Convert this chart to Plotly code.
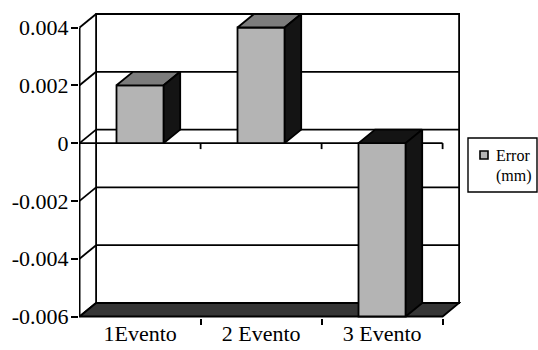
import plotly.graph_objects as go

# ---- data -------------------------------------------------------------
categories = ["1Evento", "2 Evento", "3 Evento"]
error_mm = [0.002, 0.004, -0.006]
y_ticks = [0.004, 0.002, 0, -0.002, -0.004, -0.006]
y_tick_text = ["0.004", "0.002", "0", "-0.002", "-0.004", "-0.006"]
legend_lines = ["Error", "(mm)"]

# ---- geometry / style -------------------------------------------------
FONT = "Liberation Serif, Times New Roman, serif"
W, H = 538, 350
ML, MR, MT, MB = 79, 77, 12, 32
PX_CAT = 121.0              # pixels per category
PX_VAL = 28900.0            # pixels per unit of value
DX = 16.5 / PX_CAT          # depth of the 3-D box along x (category units)
DY = 13.5 / PX_VAL          # depth of the 3-D box along y (value units)
BAR_W = 0.39
LW = 1.8

FRONT = "#b4b4b4"
TOP = "#7c7c7c"
SIDE = "#141414"
FLOOR = "#363636"

n = len(categories)
xs = list(range(1, n + 1))
x_lo, x_hi = 0.5, n + 0.5
y_lo, y_hi = min(y_ticks), max(y_ticks)

plot_w = W - ML - MR
plot_h = H - MT - MB
x0 = x_lo - 0.6 / PX_CAT
y0 = y_lo - 1.5 / PX_VAL
x_range = [x0, x0 + plot_w / PX_CAT]
y_range = [y0, y0 + plot_h / PX_VAL]


def px_x(p):
    return (p - ML) / plot_w


def px_y(p):
    return (H - MB - p) / plot_h


line_style = dict(color="black", width=LW)
shapes = []

# back wall
shapes.append(dict(type="rect", xref="x", yref="y", layer="below",
                   x0=x_lo + DX, x1=x_hi + DX, y0=y_lo + DY, y1=y_hi + DY,
                   fillcolor="white", line=line_style))
# gridlines on the back wall and their slanted continuation on the side wall
for v in y_ticks:
    shapes.append(dict(type="line", xref="x", yref="y", layer="below",
                       x0=x_lo + DX, x1=x_hi + DX, y0=v + DY, y1=v + DY,
                       line=line_style))
    shapes.append(dict(type="line", xref="x", yref="y", layer="below",
                       x0=x_lo, x1=x_lo + DX, y0=v, y1=v + DY,
                       line=line_style))
# floor
shapes.append(dict(type="path", xref="x", yref="y", layer="below",
                   path=f"M{x_lo},{y_lo} L{x_hi},{y_lo} L{x_hi + DX},{y_lo + DY} "
                        f"L{x_lo + DX},{y_lo + DY} Z",
                   fillcolor=FLOOR, line=line_style))
# front value axis
shapes.append(dict(type="line", xref="x", yref="y", layer="below",
                   x0=x_lo, x1=x_lo, y0=y_lo, y1=y_hi, line=line_style))
# category axis at zero with boundary ticks
shapes.append(dict(type="line", xref="x", yref="y", layer="below",
                   x0=x_lo, x1=x_hi, y0=0, y1=0, line=line_style))
for k in xs:
    shapes.append(dict(type="line", xref="x", yref="y", layer="below",
                       x0=k + 0.5, x1=k + 0.5, y0=0, y1=-6 / PX_VAL,
                       line=line_style))

fig = go.Figure()

# front faces of the columns
fig.add_trace(go.Bar(
    x=xs, y=error_mm, width=BAR_W, name=" ".join(legend_lines),
    marker=dict(color=FRONT, line=dict(color="black", width=LW)),
    showlegend=False, hoverinfo="skip",
))

# top and side faces of the columns
for xi, v in zip(xs, error_mm):
    l, r = xi - BAR_W / 2, xi + BAR_W / 2
    top_v, bot_v = max(v, 0), min(v, 0)
    fig.add_trace(go.Scatter(
        x=[l, r, r + DX, l + DX, l],
        y=[top_v, top_v, top_v + DY, top_v + DY, top_v],
        mode="lines", fill="toself",
        fillcolor=TOP if v > 0 else SIDE,
        line=dict(color="black", width=LW),
        showlegend=False, hoverinfo="skip",
    ))
    fig.add_trace(go.Scatter(
        x=[r, r, r + DX, r + DX, r],
        y=[bot_v, top_v, top_v + DY, bot_v + DY, bot_v],
        mode="lines", fill="toself", fillcolor=SIDE,
        line=dict(color="black", width=LW),
        showlegend=False, hoverinfo="skip",
    ))

# legend box
shapes.append(dict(type="rect", xref="paper", yref="paper",
                   x0=px_x(468), x1=px_x(537), y0=px_y(192), y1=px_y(138),
                   fillcolor="white", line=dict(color="black", width=1.4)))
shapes.append(dict(type="rect", xref="paper", yref="paper",
                   x0=px_x(480), x1=px_x(488), y0=px_y(159), y1=px_y(151),
                   fillcolor=FRONT, line=dict(color="black", width=1.6)))
annotations = [
    dict(xref="paper", yref="paper", x=px_x(494), y=px_y(155),
         text=legend_lines[0], showarrow=False, xanchor="left", yanchor="middle",
         font=dict(family=FONT, size=16, color="black")),
    dict(xref="paper", yref="paper", x=px_x(494), y=px_y(176),
         text=legend_lines[1], showarrow=False, xanchor="left", yanchor="middle",
         font=dict(family=FONT, size=16, color="black")),
]

fig.update_layout(
    width=W, height=H,
    margin=dict(l=ML, r=MR, t=MT, b=MB),
    paper_bgcolor="white", plot_bgcolor="white",
    showlegend=False,
    shapes=shapes, annotations=annotations,
    font=dict(family=FONT, color="black"),
    xaxis=dict(
        range=x_range, tickmode="array", tickvals=xs, ticktext=categories,
        ticks="", showgrid=False, zeroline=False, showline=False,
        tickfont=dict(family=FONT, size=22, color="black"),
        minor=dict(tickmode="array", tickvals=[k + 0.5 for k in xs],
                   ticks="outside", ticklen=6, tickwidth=LW, tickcolor="black"),
        automargin=False, fixedrange=True,
    ),
    yaxis=dict(
        range=y_range, tickmode="array", tickvals=y_ticks, ticktext=y_tick_text,
        ticks="outside", ticklen=7, tickwidth=LW, tickcolor="black",
        ticklabelstandoff=-2,
        showgrid=False, zeroline=False, showline=False,
        tickfont=dict(family=FONT, size=22, color="black"),
        automargin=False, fixedrange=True,
    ),
)

fig.write_html("out.html")
